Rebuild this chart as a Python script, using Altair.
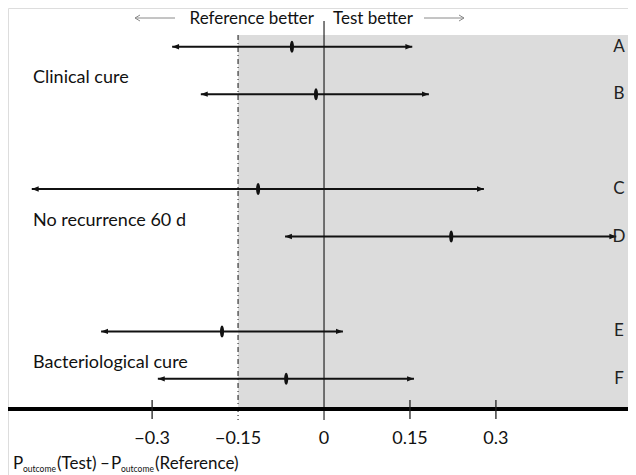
import altair as alt
import pandas as pd

# ---- data ----
row_labels = ["A", "B", "C", "D", "E", "F"]
row_pos = [0, 1, 3, 4, 6, 7]
estimate = [-0.056, -0.014, -0.115, 0.222, -0.178, -0.066]
lower = [-0.265, -0.215, -0.51, -0.068, -0.389, -0.29]
upper = [0.154, 0.183, 0.279, 0.51, 0.033, 0.157]

group_names = ["Clinical cure", "No recurrence 60 d", "Bacteriological cure"]
group_pos = [0.67, 3.67, 6.67]

tick_values = [-0.3, -0.15, 0, 0.15, 0.3]
tick_text = ["\u22120.3", "\u22120.15", "0", "0.15", "0.3"]
tick_marks = [-0.3, 0.15, 0.3]
margin_value = [-0.15]
zero_value = [0]

FONT = "Lato"
FS = 18
W, H = 620, 467

rows = pd.DataFrame({"label": row_labels, "pos": row_pos, "est": estimate,
                     "lo": lower, "hi": upper})
groups = pd.DataFrame({"name": group_names, "pos": group_pos})
ticks = pd.DataFrame({"v": tick_values, "t": tick_text})
tickm = pd.DataFrame({"v": tick_marks})
one = pd.DataFrame({"a": [0]})

xs = alt.Scale(domain=[-0.5515, 0.5305], nice=False, zero=False)
ys = alt.Scale(domain=[-0.8156, 9.026], nice=False, zero=False, reverse=True)

X = lambda f: alt.X(f, type="quantitative", scale=xs, axis=None)
Y = lambda f: alt.Y(f, type="quantitative", scale=ys, axis=None)

left_head = "M0,0L2.3,-0.9L2.3,0.9Z"
right_head = "M0,0L-2.3,-0.9L-2.3,0.9Z"
ellipse = "M0,-1C0.45,-1,0.45,1,0,1C-0.45,1,-0.45,-1,0,-1Z"
open_left = "M2,-1.2L0,0L2,1.2"
open_right = "M-2,-1.2L0,0L-2,1.2"

shade = alt.Chart(pd.DataFrame({"v": margin_value})).mark_rect(color="#dcdcdc").encode(
    x=X("v"), x2=alt.value(W), y=alt.value(27), y2=alt.value(399))

margin_line = alt.Chart(pd.DataFrame({"v": margin_value})).mark_rule(
    color="#444444", strokeWidth=1.3, strokeDash=[5, 3, 1, 3]).encode(
    x=X("v"), y=alt.value(27), y2=alt.value(412))

zero_line = alt.Chart(pd.DataFrame({"v": zero_value})).mark_rule(
    color="black", strokeWidth=1).encode(x=X("v"), y=alt.value(13), y2=alt.value(412))

axis_line = alt.Chart(one).mark_rule(color="black", strokeWidth=4).encode(
    x=alt.value(0), x2=alt.value(W), y=alt.value(401))

tick_lines = alt.Chart(tickm).mark_rule(color="#222222", strokeWidth=1.3).encode(
    x=X("v"), y=alt.value(392), y2=alt.value(411))

tick_labels = alt.Chart(ticks).mark_text(font=FONT, fontSize=FS, color="#111111",
                                         baseline="middle").encode(
    x=X("v"), y=alt.value(431), text="t:N")

whiskers = alt.Chart(rows).mark_rule(color="#111111", strokeWidth=2).encode(
    x=X("lo"), x2="hi:Q", y=Y("pos"))

lheads = alt.Chart(rows).mark_point(shape=left_head, filled=True, size=36,
                                    color="#111111", opacity=1).encode(x=X("lo"), y=Y("pos"))
rheads = alt.Chart(rows).mark_point(shape=right_head, filled=True, size=36,
                                    color="#111111", opacity=1).encode(x=X("hi"), y=Y("pos"))
points = alt.Chart(rows).mark_point(shape=ellipse, filled=True, size=144,
                                    color="#111111", opacity=1).encode(x=X("est"), y=Y("pos"))

row_text = alt.Chart(rows).mark_text(font=FONT, fontSize=17, color="#222222",
                                     baseline="middle", align="center").encode(
    x=alt.value(611), y=Y("pos"), text="label:N")

group_text = alt.Chart(groups).mark_text(font=FONT, fontSize=FS, color="#111111",
                                         baseline="middle", align="left").encode(
    x=alt.value(25), y=Y("pos"), text="name:N")

hdr_left = alt.Chart(one).mark_text(text="Reference better", font=FONT, fontSize=17,
                                    color="#111111", baseline="middle", align="right").encode(
    x=alt.value(306), y=alt.value(11))
hdr_right = alt.Chart(one).mark_text(text="Test better", font=FONT, fontSize=17,
                                     color="#111111", baseline="middle", align="left").encode(
    x=alt.value(325), y=alt.value(11))
arr_l = alt.Chart(one).mark_rule(color="#8a8a8a", strokeWidth=1).encode(
    x=alt.value(127), x2=alt.value(167), y=alt.value(10))
arr_r = alt.Chart(one).mark_rule(color="#8a8a8a", strokeWidth=1).encode(
    x=alt.value(416), x2=alt.value(456), y=alt.value(10))
arr_lh = alt.Chart(one).mark_point(shape=open_left, filled=False, size=25, color="#8a8a8a",
                                   strokeWidth=1, opacity=1).encode(x=alt.value(127), y=alt.value(10))
arr_rh = alt.Chart(one).mark_point(shape=open_right, filled=False, size=25, color="#8a8a8a",
                                   strokeWidth=1, opacity=1).encode(x=alt.value(456), y=alt.value(10))

def seg(txt, x, y, size):
    return alt.Chart(one).mark_text(text=txt, font=FONT, fontSize=size, color="#111111",
                                    align="left", baseline="alphabetic").encode(
        x=alt.value(x), y=alt.value(y))

title_parts = [
    seg("P", 5, 461, 17),
    seg("outcome", 15, 464, 8.5),
    seg("(Test)", 49, 461, 17),
    seg("\u2013", 92, 461, 17),
    seg("P", 103, 461, 17),
    seg("outcome", 113, 464, 8.5),
    seg("(Reference)", 147, 461, 17),
]

chart = alt.layer(
    shade, margin_line, zero_line, axis_line, tick_lines, tick_labels,
    whiskers, lheads, rheads, points, row_text, group_text,
    hdr_left, hdr_right, arr_l, arr_r, arr_lh, arr_rh, *title_parts
).properties(
    width=W, height=H, padding=0,
    autosize=alt.AutoSizeParams(type="none"),
).configure_view(stroke=None).configure(background="white")

chart.save("out.html", embed_options={"renderer": "svg", "actions": False})
